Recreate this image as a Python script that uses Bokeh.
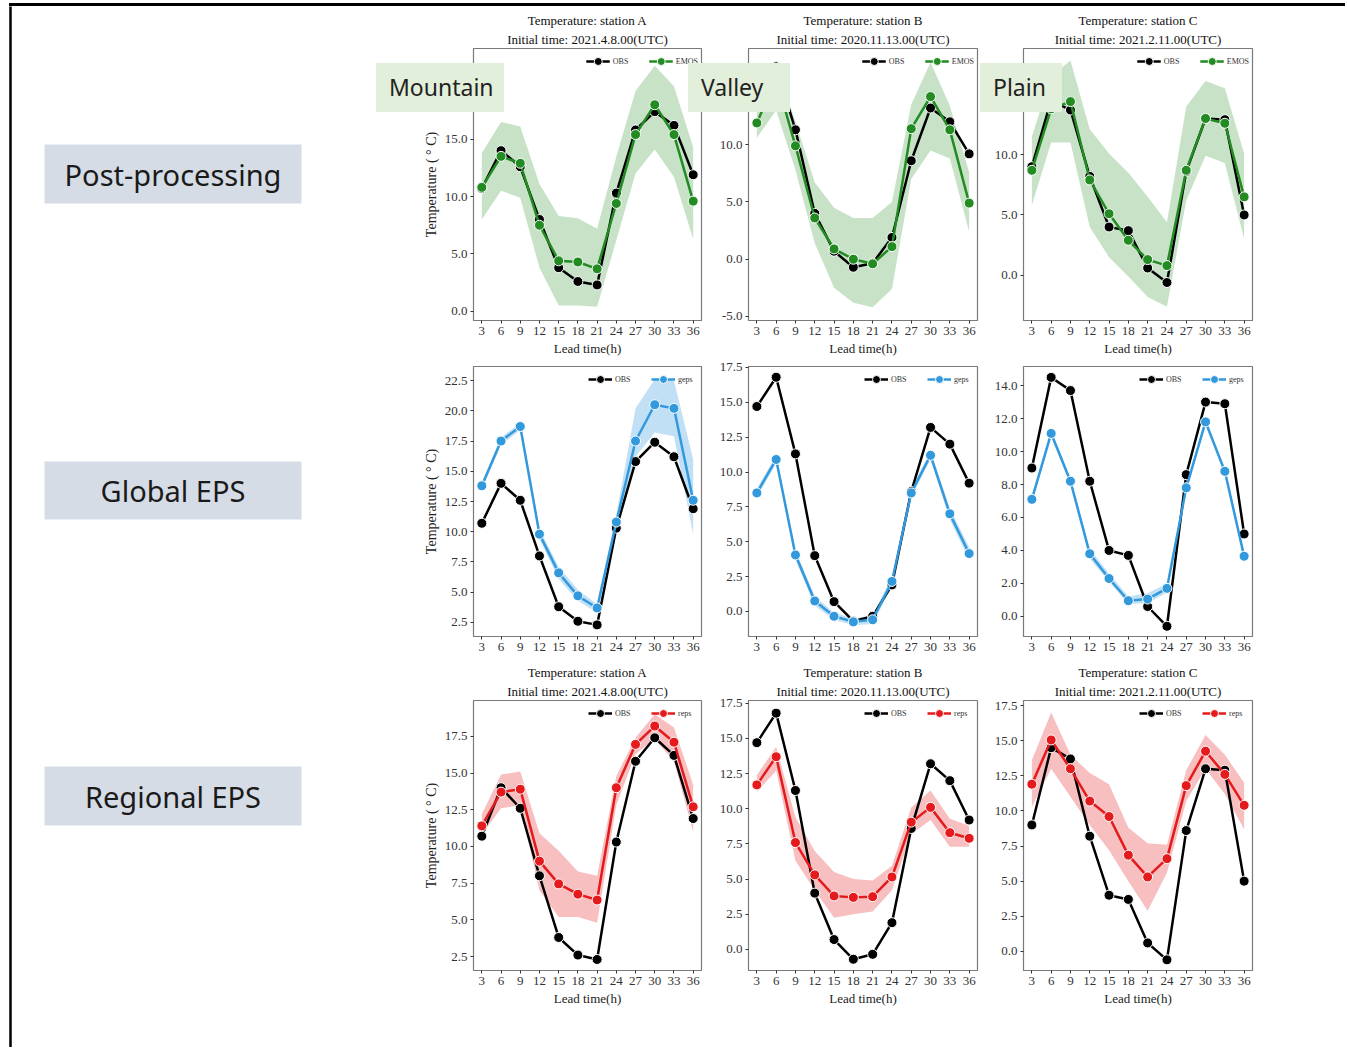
from bokeh.plotting import figure
from bokeh.models import (Range1d, FixedTicker, PrintfTickFormatter, Legend, LegendItem,
                          Title, Div)
from bokeh.layouts import row, column
from bokeh.embed import file_html
from bokeh.resources import INLINE
from bokeh.core.properties import value

# ---------------- data ----------------
lead_time = [3, 6, 9, 12, 15, 18, 21, 24, 27, 30, 33, 36]

obs_a = [10.7, 14.0, 12.6, 8.0, 3.8, 2.6, 2.3, 10.3, 15.8, 17.4, 16.2, 11.9]
obs_b = [14.7, 16.8, 11.3, 4.0, 0.7, -0.7, -0.35, 1.9, 8.6, 13.2, 12.0, 9.2]
obs_c = [9.0, 14.5, 13.7, 8.2, 4.0, 3.7, 0.6, -0.6, 8.6, 13.0, 12.9, 5.0]

emos_a = [10.8, 13.5, 12.9, 7.5, 4.4, 4.3, 3.7, 9.4, 15.4, 18.0, 15.4, 9.6]
emos_a_hi = [13.8, 16.5, 16.1, 11.1, 8.3, 8.1, 7.2, 13.5, 19.2, 21.4, 19.6, 14.3]
emos_a_lo = [8.0, 10.5, 9.9, 3.8, 0.5, 0.5, 0.4, 6.2, 12.0, 14.1, 11.7, 6.3]
emos_b = [11.9, 15.8, 9.9, 3.6, 0.9, 0.0, -0.4, 1.1, 11.4, 14.2, 11.3, 4.9]
emos_b_hi = [13.5, 17.0, 12.0, 6.7, 4.5, 3.6, 3.6, 5.0, 13.5, 17.2, 13.4, 7.6]
emos_b_lo = [10.6, 13.0, 7.8, 1.4, -2.5, -3.8, -4.2, -2.6, 7.0, 9.5, 8.8, 2.4]
emos_c = [8.7, 13.8, 14.4, 7.9, 5.1, 2.9, 1.3, 0.8, 8.7, 13.0, 12.6, 6.5]
emos_c_hi = [11.5, 16.5, 17.8, 12.1, 10.1, 8.5, 6.5, 4.4, 14.0, 16.1, 15.5, 10.1]
emos_c_lo = [5.8, 11.0, 11.0, 4.0, 1.5, -0.1, -1.8, -2.6, 6.2, 9.9, 9.3, 3.0]

geps_a = [13.8, 17.5, 18.7, 9.8, 6.6, 4.7, 3.7, 10.8, 17.5, 20.5, 20.2, 12.6]
geps_a_hi = [14.1, 17.8, 19.0, 10.2, 7.1, 5.2, 4.0, 11.4, 20.2, 22.6, 22.5, 16.0]
geps_a_lo = [13.5, 17.2, 18.4, 9.4, 6.1, 4.3, 3.3, 10.3, 16.2, 18.2, 17.9, 9.8]
geps_b = [8.5, 10.9, 4.05, 0.75, -0.35, -0.75, -0.6, 2.15, 8.5, 11.2, 7.0, 4.15]
geps_b_hi = [8.8, 11.2, 4.4, 1.1, -0.1, -0.5, -0.3, 2.5, 8.8, 11.5, 7.4, 4.6]
geps_b_lo = [8.2, 10.6, 3.7, 0.4, -0.6, -1.0, -0.9, 1.8, 8.2, 10.9, 6.6, 3.7]
geps_c = [7.1, 11.1, 8.2, 3.8, 2.3, 0.95, 1.05, 1.7, 7.8, 11.8, 8.8, 3.65]
geps_c_hi = [7.3, 11.3, 8.4, 4.1, 2.6, 1.2, 1.4, 2.0, 8.0, 12.0, 9.0, 3.9]
geps_c_lo = [6.9, 10.9, 8.0, 3.5, 2.1, 0.75, 0.8, 1.45, 7.6, 11.6, 8.6, 3.4]

reps_a = [11.4, 13.7, 13.9, 9.0, 7.45, 6.75, 6.35, 14.0, 16.95, 18.2, 17.1, 12.7]
reps_a_hi = [12.2, 14.9, 15.1, 10.9, 9.7, 8.3, 8.0, 14.8, 17.4, 19.0, 18.1, 14.2]
reps_a_lo = [10.8, 12.6, 12.8, 7.0, 5.2, 5.2, 4.8, 12.8, 16.3, 17.3, 15.8, 11.0]
reps_b = [11.7, 13.7, 7.6, 5.3, 3.8, 3.7, 3.75, 5.15, 9.05, 10.1, 8.3, 7.9]
reps_b_hi = [12.4, 14.4, 9.4, 7.0, 5.5, 5.0, 4.9, 5.95, 10.1, 11.3, 9.3, 8.8]
reps_b_lo = [11.2, 12.7, 6.3, 4.2, 2.25, 2.5, 2.7, 4.2, 8.2, 9.2, 7.3, 7.3]
reps_c = [11.9, 15.05, 13.0, 10.7, 9.6, 6.85, 5.3, 6.6, 11.8, 14.25, 12.6, 10.4]
reps_c_hi = [13.6, 17.0, 14.0, 12.7, 11.9, 8.8, 7.7, 7.6, 12.9, 15.4, 14.0, 12.0]
reps_c_lo = [10.3, 13.0, 11.0, 9.0, 7.2, 5.0, 2.9, 5.6, 10.7, 13.0, 11.2, 8.7]

station_titles = ["Temperature: station A", "Temperature: station B", "Temperature: station C"]
init_titles = ["Initial time: 2021.4.8.00(UTC)", "Initial time: 2020.11.13.00(UTC)",
               "Initial time: 2021.2.11.00(UTC)"]
row_labels = ["Post-processing", "Global EPS", "Regional EPS"]
terrain_labels = ["Mountain", "Valley", "Plain"]
model_names = ["EMOS", "geps", "reps"]

yticks = [
    [[0, 5, 10, 15], [-5, 0, 5, 10], [0, 5, 10]],
    [[2.5, 5, 7.5, 10, 12.5, 15, 17.5, 20, 22.5], [0, 2.5, 5, 7.5, 10, 12.5, 15, 17.5],
     [0, 2, 4, 6, 8, 10, 12, 14]],
    [[2.5, 5, 7.5, 10, 12.5, 15, 17.5], [0, 2.5, 5, 7.5, 10, 12.5, 15, 17.5],
     [0, 2.5, 5, 7.5, 10, 12.5, 15, 17.5]],
]
yranges = [
    [(-0.8, 22.9), (-5.35, 18.4), (-3.75, 18.8)],
    [(1.34, 23.66), (-1.8, 17.57), (-1.22, 15.16)],
    [(1.55, 19.94), (-1.5, 17.7), (-1.36, 17.86)],
]

obs_all = [obs_a, obs_b, obs_c]
model_all = [[emos_a, emos_b, emos_c], [geps_a, geps_b, geps_c], [reps_a, reps_b, reps_c]]
hi_all = [[emos_a_hi, emos_b_hi, emos_c_hi], [geps_a_hi, geps_b_hi, geps_c_hi],
          [reps_a_hi, reps_b_hi, reps_c_hi]]
lo_all = [[emos_a_lo, emos_b_lo, emos_c_lo], [geps_a_lo, geps_b_lo, geps_c_lo],
          [reps_a_lo, reps_b_lo, reps_c_lo]]

# ---------------- style ----------------
model_colors = ["#228B22", "#3399dd", "#e41a1c"]
band_alpha = [0.25, 0.3, 0.28]
SERIF = "Liberation Serif"
SANS = "Noto Sans"

# layout geometry (px)
left_w = 376
col_w = [330, 274, 365]
col_bl = [97, 42, 43]
col_br = [5, 3, 93]
row_h = [354, 300, 387]
row_bt = [42, 6, 40]
row_bb = [40, 24, 77]
has_title = [True, False, True]
has_xlabel = [True, False, True]
top_gap = 6

title_props = Title.properties()


def style_axis(ax):
    ax.axis_line_color = None
    ax.major_tick_line_color = "#333333"
    ax.major_tick_out = 3
    ax.major_tick_in = 0
    ax.minor_tick_line_color = None
    ax.major_label_text_font = SERIF
    ax.major_label_text_font_size = "13px"
    ax.major_label_text_color = "#333333"
    ax.major_label_standoff = 3
    ax.axis_label_text_font = SERIF
    ax.axis_label_text_font_size = "13px"
    ax.axis_label_text_font_style = "normal"
    ax.axis_label_text_color = "#222222"
    ax.axis_label_standoff = 3


def make_panel(r, c):
    p = figure(width=col_w[c], height=row_h[r],
               x_range=Range1d(1.7, 37.3), y_range=Range1d(*yranges[r][c]),
               output_backend="svg", toolbar_location=None, tools="",
               title_location=None,
               min_border_left=col_bl[c], min_border_right=col_br[c],
               min_border_top=row_bt[r], min_border_bottom=row_bb[r])
    p.background_fill_color = "white"
    p.border_fill_color = "white"
    p.outline_line_color = "#7a7a7a"
    p.outline_line_width = 1.2
    p.xgrid.visible = False
    p.ygrid.visible = False
    p.xaxis.ticker = FixedTicker(ticks=lead_time)
    p.yaxis.ticker = FixedTicker(ticks=yticks[r][c])
    p.yaxis.formatter = PrintfTickFormatter(format="%.1f")
    style_axis(p.xaxis[0])
    style_axis(p.yaxis[0])
    if has_xlabel[r]:
        p.xaxis.axis_label = "Lead time(h)"
    if c == 0:
        p.yaxis.axis_label = "Temperature ( \u00b0 C)"
        p.yaxis.axis_label_text_font_size = "14px"

    color = model_colors[r]
    p.varea(x=lead_time, y1=lo_all[r][c], y2=hi_all[r][c],
            fill_color=color, fill_alpha=band_alpha[r])
    l1 = p.line(lead_time, obs_all[c], line_color="black", line_width=2.5)
    s1 = p.scatter(lead_time, obs_all[c], size=10, fill_color="black",
                   line_color="white", line_width=1)
    l2 = p.line(lead_time, model_all[r][c], line_color=color, line_width=2.5)
    s2 = p.scatter(lead_time, model_all[r][c], size=10, fill_color=color,
                   line_color="white", line_width=1)

    legend = Legend(items=[LegendItem(label="OBS", renderers=[l1, s1]),
                           LegendItem(label=model_names[r], renderers=[l2, s2])],
                    orientation="horizontal", location="top_right",
                    label_text_font=SERIF, label_text_font_size="8px",
                    label_text_color="#333333",
                    glyph_width=24, glyph_height=20, label_height=20,
                    label_standoff=3, spacing=16, padding=0, margin=3,
                    background_fill_alpha=0, border_line_alpha=0)
    p.add_layout(legend)

    if has_title[r]:
        kw_in = dict(text=init_titles[c], align="center", text_font=SERIF,
                     text_font_size="13px", text_font_style="normal", text_color="#111111")
        kw_out = dict(text=station_titles[c], align="center", text_font=SERIF,
                      text_font_size="13px", text_font_style="normal", text_color="#111111")
        if "standoff" in title_props:
            kw_in["standoff"] = 4
            kw_out["standoff"] = 0
        p.add_layout(Title(**kw_in), "above")
        p.add_layout(Title(**kw_out), "above")
    return p


panels = [[make_panel(r, c) for c in range(3)] for r in range(3)]

# ---------------- left label column ----------------
left_h = sum(row_h)
left = figure(width=left_w, height=left_h, x_range=Range1d(0, left_w),
              y_range=Range1d(top_gap + left_h, top_gap),
              output_backend="svg", toolbar_location=None, tools="", min_border=0,
              x_axis_location=None, y_axis_location=None, title_location=None)
left.outline_line_color = None
left.grid.grid_line_color = None
left.background_fill_color = "white"
left.border_fill_color = "white"
left.segment(x0=10, y0=top_gap - 2, x1=10, y1=top_gap + left_h, line_color="black",
             line_width=2.5)
left.quad(left=44, right=301, top=[144, 461, 766], bottom=[203, 519, 825],
          fill_color="#d6dce5", line_color=None)
left.text(x=172.5, y=[174, 490, 796], text=row_labels, text_font=value(SANS),
          text_font_size="29px", text_align="center", text_baseline="middle",
          text_color="#1a1a1a")

# ---------------- frame line on top ----------------
gap_div = Div(text="", width=1345, height=3, margin=0)
line_row = row(Div(text="", width=9, height=3, margin=0),
               Div(text="", width=1336, height=3, margin=0,
                   styles={"background-color": "black"}), spacing=0)

# ---------------- terrain labels overlaid on the top row ----------------
terrain_geom = [(376, 128), (688, 102), (980, 82)]
terrain_divs = []
for name, (lx, bw) in zip(terrain_labels, terrain_geom):
    terrain_divs.append(Div(
        text=name, width=bw, height=49, margin=0,
        styles={"position": "absolute", "left": f"{lx}px", "top": "63px",
                "background-color": "#e2efda", "font-family": SANS,
                "font-size": "23px", "color": "#222222", "line-height": "49px",
                "text-align": "left", "text-indent": "13px", "z-index": "10",
                "overflow": "hidden", "white-space": "nowrap"}))

grid = column([row(panels[r], spacing=0) for r in range(3)], spacing=0)
layout = column([gap_div, line_row, row(left, grid, spacing=0)] + terrain_divs, spacing=0)

open("out.html", "w").write(file_html(layout, INLINE))
